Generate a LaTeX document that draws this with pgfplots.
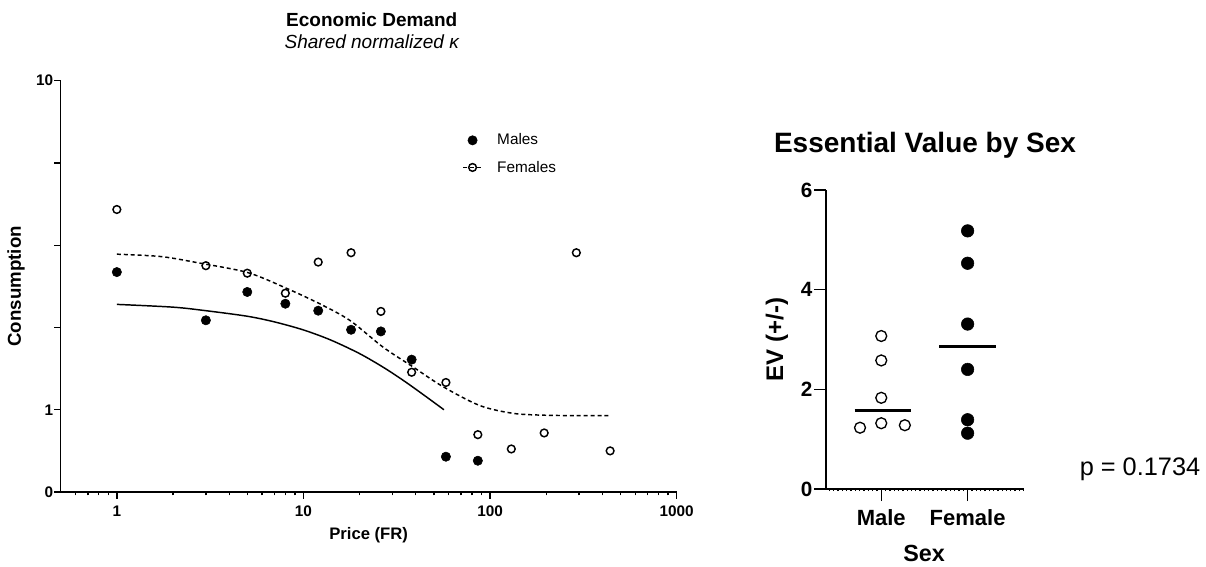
\documentclass[border=0pt]{standalone}
\usepackage{pgfplots}
\pgfplotsset{compat=1.18}
\usepackage{fontspec}
\setmainfont{Liberation Sans}
\begin{document}
\begin{tikzpicture}
% ---------------- Left: Economic Demand ----------------
\begin{axis}[
  at={(45.5pt,-369pt)}, anchor=south west,
  width=462pt, height=308.5pt, scale only axis,
  xmode=log, ymode=log,
  xmin=0.5, xmax=1000,
  ymin=0.562341325, ymax=10,
  axis lines*=left,
  axis line style={line width=1.1pt},
  tick align=outside,
  clip=false,
  xtick={1,10,100,1000}, xticklabels={1,10,100,1000},
  minor xtick={0.6,0.7,0.8,0.9,2,3,4,5,6,7,8,9,20,30,40,50,60,70,80,90,200,300,400,500,600,700,800,900},
  ytick={0.562341325,1,1.77827941,3.16227766,5.623413252,10},
  yticklabels={0,1,,,,10},
  minor ytick={1},
  major tick length=5pt, minor tick length=2.6pt,
  tick style={line width=1pt, black},
  /pgf/number format/assume math mode=true,
  ticklabel style={font=\fontsize{11.5pt}{13pt}\selectfont\bfseries},
  xticklabel style={anchor=base, yshift=-13.5pt},
  yticklabel style={anchor=east, inner sep=0pt, xshift=-0.5pt},
  title={Economic Demand},
  title style={at={(axis description cs:0.505,1.131)}, anchor=base, yshift=-6pt, font=\fontsize{14.25pt}{16pt}\selectfont\bfseries},
  xlabel={Price (FR)},
  x label style={at={(axis description cs:0.5,-0.1143)}, anchor=base, font=\fontsize{12.5pt}{14pt}\selectfont\bfseries},
  ylabel={Consumption},
  y label style={at={(axis description cs:-0.0725,0.5)}, anchor=center, font=\fontsize{14pt}{16pt}\selectfont\bfseries},
  legend style={at={(axis description cs:0.652,0.878)}, anchor=north west, draw=none, fill=none,
    font=\fontsize{11.5pt}{13pt}\selectfont, row sep=6.5pt, inner sep=0pt,
    nodes={inner sep=2pt},
    /tikz/every odd column/.append style={column sep=9pt}},
  legend cell align=left,
  legend image code/.code={\draw[mark repeat=2,mark phase=2] plot coordinates {(0pt,0pt)(7pt,0pt)(14pt,0pt)};},
]
\addlegendimage{only marks, mark=*, mark size=3.5pt, black}
\addlegendentry{Males}
\addlegendimage{black, line width=1pt, dash pattern=on 3pt off 2.2pt, mark=o, mark size=2.9pt, mark options={solid, line width=1.1pt, fill=white}}
\addlegendentry{Females}

% fitted curves
\addplot[black, line width=1.1pt, smooth, no marks, forget plot] coordinates {
  (1,2.09) (2,2.05) (3,2.00) (5,1.924) (7,1.849) (10,1.748) (14,1.629) (20,1.481) (27,1.342) (35,1.218) (45,1.10) (56.6,1.0)
};
\addplot[black, line width=1.1pt, dash pattern=on 3pt off 2.2pt, smooth, no marks, forget plot] coordinates {
  (1,2.97) (1.73,2.92) (2.78,2.79) (5.04,2.61) (8.1,2.34) (12.2,2.10) (17.7,1.87) (26.7,1.55) (38.6,1.35) (56,1.175) (88,1.03) (133,0.975) (200,0.962) (300,0.96) (430,0.96)
};
% Males
\addplot[only marks, mark=*, mark size=3.5pt, black, forget plot] coordinates {
  (1,2.62) (3,1.87) (5,2.28) (8,2.10) (12,2.0) (18,1.75) (26,1.73) (38,1.42) (58,0.72) (86,0.70)
};
% Females
\addplot[only marks, mark=o, mark size=2.9pt, black, mark options={line width=1.1pt, fill=white}, forget plot] coordinates {
  (1,4.06) (3,2.74) (5,2.60) (8,2.26) (12,2.81) (18,3.0) (26,1.99) (38,1.30) (58,1.21) (86,0.84) (130,0.76) (195,0.85) (290,3.0) (440,0.75)
};
\node[anchor=base, font=\fontsize{14.25pt}{16pt}\selectfont\itshape] at (axis description cs:0.505,1.0788) {Shared normalized κ};
\end{axis}

% ---------------- Right: Essential Value by Sex ----------------
\begin{axis}[
  at={(619.5pt,-366.75pt)}, anchor=south west,
  width=148.5pt, height=224.25pt, scale only axis,
  xmin=-0.64, xmax=1.653, ymin=0, ymax=6,
  axis lines*=left,
  axis line style={line width=1.1pt},
  tick align=outside,
  xtick={0,1}, xticklabels={Male,Female},
  ytick={0,2,4,6}, yticklabels={0,2,4,6},
  minor xtick={-0.6,-0.55,...,1.65},
  major tick length=9pt, minor tick length=1.6pt,
  tick style={line width=1pt, black},
  /pgf/number format/assume math mode=true,
  ticklabel style={font=\fontsize{16.5pt}{18pt}\selectfont\bfseries},
  yticklabel style={anchor=east, inner sep=0pt, xshift=-1pt, font=\fontsize{15.5pt}{18pt}\selectfont\bfseries},
  xticklabel style={anchor=base, yshift=-18.5pt},
  title={Essential Value by Sex},
  title style={at={(axis description cs:0.5,1.127)}, anchor=base, yshift=-6pt, font=\fontsize{21pt}{24pt}\selectfont\bfseries},
  xlabel={Sex},
  x label style={at={(axis description cs:0.495,-0.2441)}, anchor=base, font=\fontsize{17.5pt}{20pt}\selectfont\bfseries},
  ylabel={EV (+/-)},
  y label style={at={(axis description cs:-0.2475,0.5)}, anchor=center, font=\fontsize{18pt}{20pt}\selectfont\bfseries},
  clip=false,
]
\addplot[only marks, mark=o, mark size=4.1pt, black, mark options={line width=1pt, fill=white}] coordinates {
  (-0.246,1.23) (0,1.32) (0.273,1.28) (0,1.83) (0,2.58) (0,3.07)
};
\addplot[only marks, mark=*, mark size=4.7pt, black] coordinates {
  (1,5.18) (1,4.53) (1,3.31) (1,2.40) (1,1.39) (1,1.12)
};
\addplot[black, line width=2.5pt, no marks] coordinates {(-0.31,1.575) (0.34,1.575)};
\addplot[black, line width=2.5pt, no marks] coordinates {(0.673,2.86) (1.327,2.86)};
\node[anchor=base west, font=\fontsize{19pt}{22pt}\selectfont] at (axis description cs:1.258,0.0441) {p = 0.1734};
\end{axis}

\pgfresetboundingbox
\path[use as bounding box] (0pt,0pt) rectangle (904.5pt,-425.25pt);
\end{tikzpicture}
\end{document}
